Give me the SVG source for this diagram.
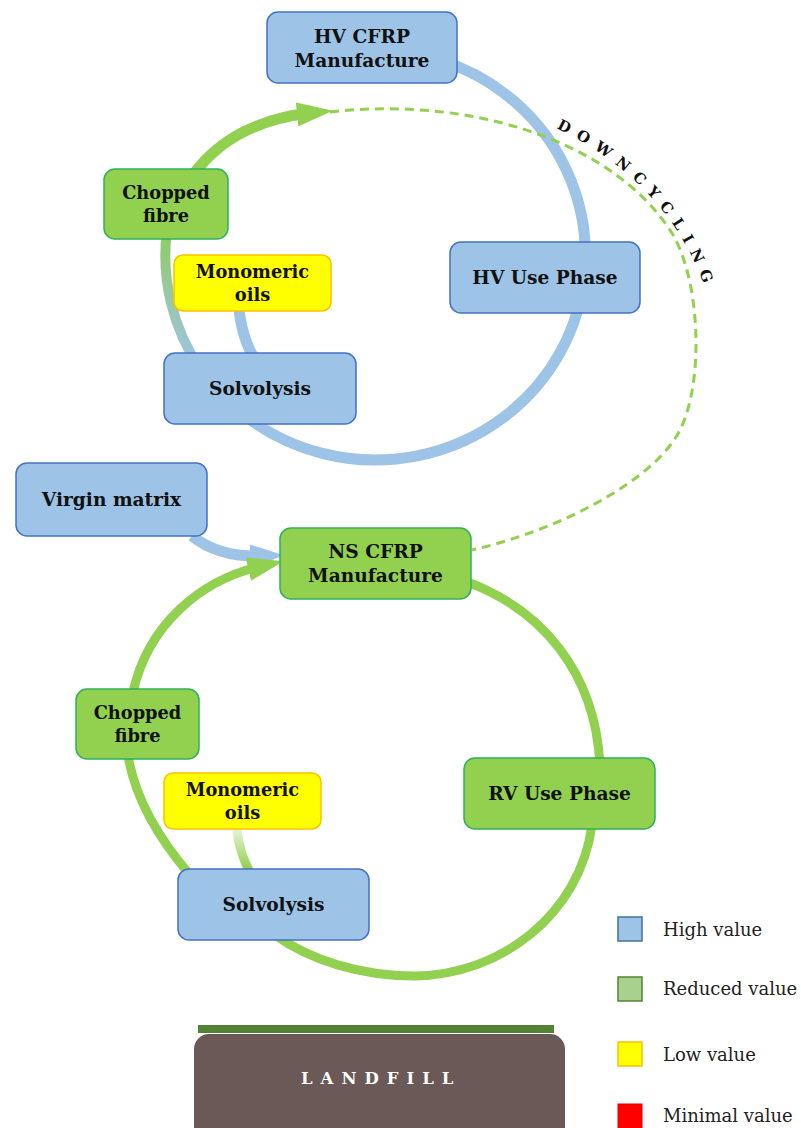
<svg xmlns="http://www.w3.org/2000/svg" width="801" height="1128" viewBox="0 0 801 1128">
<style>
.blue{fill:#9dc3e6;stroke:#4472c4;stroke-width:1.5}
.green{fill:#92d050;stroke:#2fb05a;stroke-width:1.5}
.yellow{fill:#ffff00;stroke:#ffc000;stroke-width:1.5}
.lbl{font-family:"DejaVu Serif","Liberation Serif",serif;font-weight:bold;font-size:18.6px;fill:#111;text-anchor:middle}
.sm{font-size:17.8px}
.leg{font-family:"DejaVu Serif","Liberation Serif",serif;font-size:18px;fill:#222}
.cb{fill:none;stroke:#9dc3e6;stroke-width:11}
.cg{fill:none;stroke:#92d050;stroke-width:9}
</style>
<defs>
<marker id="ahG" markerUnits="userSpaceOnUse" viewBox="0 0 36 24" markerWidth="36" markerHeight="24" refX="14" refY="12" orient="auto"><path d="M0,0 L36,12 L0,24 z" fill="#92d050"/></marker>
<marker id="ahB" markerUnits="userSpaceOnUse" viewBox="0 0 34 24" markerWidth="34" markerHeight="24" refX="12" refY="12" orient="auto"><path d="M0,0 L34,12 L0,24 z" fill="#9dc3e6"/></marker>
<linearGradient id="gUp" gradientUnits="userSpaceOnUse" x1="0" y1="360" x2="0" y2="235"><stop offset="0" stop-color="#9fc4e2"/><stop offset="1" stop-color="#8fcc68"/></linearGradient>
<linearGradient id="gLow" gradientUnits="userSpaceOnUse" x1="0" y1="829" x2="0" y2="869"><stop offset="0" stop-color="#e4f4d6"/><stop offset="1" stop-color="#92d050"/></linearGradient>
</defs>
<g id="connectors">
<path class="cb" d="M440,60 A210 205 0 1 1 244,415"/>
<path fill="none" stroke="url(#gUp)" stroke-width="10" d="M201,370 A210 205 0 0 1 167,230"/>
<path class="cb" stroke-width="10" d="M238,300 C240,325 245,345 258,365"/>
<path fill="none" stroke="#92d050" stroke-width="11" d="M193,175 C220,138 262,118 311,113" marker-end="url(#ahG)"/>
<path fill="none" stroke="#92d050" stroke-width="3" stroke-dasharray="9 6" d="M330,112 C470,96 610,140 670,230 C700,275 705,380 680,430 C655,480 560,530 472,550"/>
<path class="cb" stroke-width="10" d="M192,536 C212,552 236,557 262,556" marker-end="url(#ahB)"/>
<path class="cg" d="M470,583 C540,610 595,670 600,765"/>
<path class="cg" d="M592,825 C580,915 500,975 415,976 C360,976 310,960 275,935"/>
<path class="cg" d="M190,875 C160,840 135,800 128,755"/>
<path class="cg" d="M133,692 C148,625 200,580 262,566" marker-end="url(#ahG)"/>
<path fill="none" stroke="url(#gLow)" stroke-width="9" d="M236,822 C238,845 243,860 253,878"/>
</g>
<g id="hv-cfrp"><rect class="blue" x="267" y="12" width="190" height="71" rx="11"/><text class="lbl" x="362" y="43">HV CFRP</text><text class="lbl" x="362" y="67">Manufacture</text></g>
<g id="chopped-top"><rect class="green" x="104" y="169" width="124" height="70" rx="11"/><text class="lbl sm" x="166" y="199">Chopped</text><text class="lbl sm" x="166" y="222">fibre</text></g>
<g id="monomeric-top"><rect class="yellow" x="174" y="255" width="157" height="56" rx="9"/><text class="lbl sm" x="252.5" y="278">Monomeric</text><text class="lbl sm" x="252.5" y="301">oils</text></g>
<g id="hv-use"><rect class="blue" x="450" y="242" width="190" height="71" rx="11"/><text class="lbl" x="545" y="284">HV Use Phase</text></g>
<g id="solvolysis-top"><rect class="blue" x="164" y="353" width="192" height="71" rx="11"/><text class="lbl" x="260" y="395">Solvolysis</text></g>
<g id="virgin-matrix"><rect class="blue" x="16" y="463" width="191" height="73" rx="11"/><text class="lbl" x="111.5" y="506">Virgin matrix</text></g>
<g id="ns-cfrp"><rect class="green" x="280" y="528" width="191" height="71" rx="11"/><text class="lbl" x="375.5" y="558">NS CFRP</text><text class="lbl" x="375.5" y="582">Manufacture</text></g>
<g id="chopped-bottom"><rect class="green" x="76" y="689" width="123" height="70" rx="11"/><text class="lbl sm" x="137.5" y="719">Chopped</text><text class="lbl sm" x="137.5" y="742">fibre</text></g>
<g id="monomeric-bottom"><rect class="yellow" x="164" y="773" width="157" height="56" rx="9"/><text class="lbl sm" x="242.5" y="796">Monomeric</text><text class="lbl sm" x="242.5" y="819">oils</text></g>
<g id="rv-use"><rect class="green" x="464" y="758" width="191" height="71" rx="11"/><text class="lbl" x="559.5" y="800">RV Use Phase</text></g>
<g id="solvolysis-bottom"><rect class="blue" x="178" y="869" width="191" height="71" rx="11"/><text class="lbl" x="273.5" y="911">Solvolysis</text></g>
<g id="downcycling-label"><path id="dcPath" fill="none" d="M556,128 Q668,182 706,290"/><text font-family="DejaVu Serif, Liberation Serif, serif" font-weight="bold" font-size="15" letter-spacing="8.5" fill="#111"><textPath href="#dcPath" startOffset="0">DOWNCYCLING</textPath></text></g>
<g id="landfill"><rect x="198" y="1025" width="356" height="8" fill="#548235"/><rect x="194" y="1034" width="371" height="110" rx="15" fill="#6a5956"/><text x="301" y="1084" font-family="DejaVu Serif, Liberation Serif, serif" font-weight="bold" font-size="16.5" letter-spacing="8" fill="#ffffff">LANDFILL</text></g>
<g id="legend">
<rect x="618" y="917" width="24" height="24" fill="#9dc3e6" stroke="#41719c" stroke-width="1.5"/><text class="leg" x="663" y="936">High value</text>
<rect x="618" y="977" width="24" height="24" fill="#a9d18e" stroke="#548235" stroke-width="1.5"/><text class="leg" x="663" y="995">Reduced value</text>
<rect x="618" y="1042" width="24" height="24" fill="#ffff00" stroke="#ffc000" stroke-width="1.5"/><text class="leg" x="663" y="1061">Low value</text>
<rect x="618" y="1104" width="24" height="26" fill="#ff0000" stroke="#e00000" stroke-width="1"/><text class="leg" x="663" y="1122">Minimal value</text>
</g>
</svg>
